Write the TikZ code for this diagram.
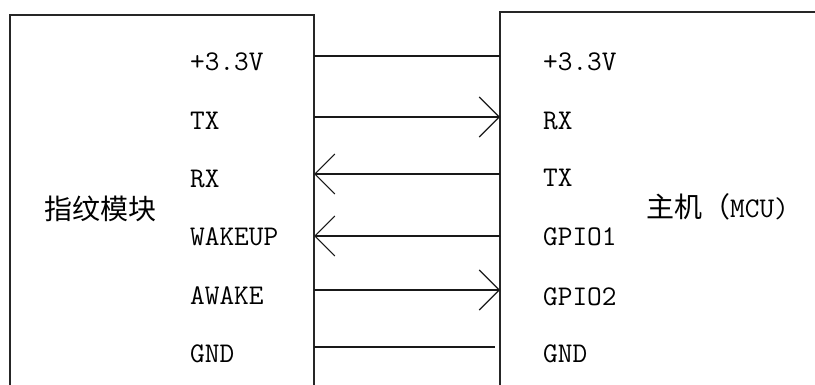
\documentclass[tikz,border=0pt]{standalone}
\usepackage{fontspec}
\usetikzlibrary{arrows.meta}
\newfontfamily\cjk{Noto Sans CJK SC}
\begin{document}
\begin{tikzpicture}[x=1pt,y=-1pt,
  box/.style={draw=black!85,line width=1.4pt},
  wire/.style={draw=black!90,line width=1.2pt},
  sig/.style={wire,-{Straight Barb[length=20pt,width=40pt,line width=1.1pt]}},
  pin/.style={anchor=west,inner sep=0pt,font=\ttfamily\fontsize{28.5}{29}\selectfont},
  title/.style={anchor=west,inner sep=0pt,font=\cjk\fontsize{28}{28}\selectfont}]
\useasboundingbox (0,0) rectangle (815,385);
\clip (0,0) rectangle (815,385);
\fill[white] (0,0) rectangle (815,385);
% boxes
\draw[box] (10,390) -- (10,15) -- (314,15) -- (314,390);
\draw[box] (500,390) -- (500,12) -- (820,12);
% edge coordinates
\foreach \i/\y in {1/56,2/117,3/174,4/236,5/290,6/347}{
  \coordinate (L\i) at (314,\y);
  \coordinate (R\i) at (500,\y);
}
\coordinate (R6e) at (495,347);
% titles
\node[title] (fp) at (44,209) {指纹模块};
\node[title] (mcu) at (646,207) {主机（{\ttfamily\fontsize{28.5}{29}\selectfont MCU)}};
% left pins
\node[pin] (l1) at (190,62) {+3.3V};
\node[pin] (l2) at (190,121) {TX};
\node[pin] (l3) at (190,179) {RX};
\node[pin] (l4) at (190,237) {WAKEUP};
\node[pin] (l5) at (190,296) {AWAKE};
\node[pin] (l6) at (190,354) {GND};
% right pins
\node[pin] (r1) at (543,62) {+3.3V};
\node[pin] (r2) at (543,121) {RX};
\node[pin] (r3) at (543,178) {TX};
\node[pin] (r4) at (543,237) {GPIO1};
\node[pin] (r5) at (543,297) {GPIO2};
\node[pin] (r6) at (543,354) {GND};
% wires
\draw[wire] (L1) -- (R1);
\draw[sig] (L2) -- (R2);
\draw[sig] (R3) -- (L3);
\draw[sig] (R4) -- (L4);
\draw[sig] (L5) -- (R5);
\draw[wire] (L6) -- (R6e);
\end{tikzpicture}
\end{document}
